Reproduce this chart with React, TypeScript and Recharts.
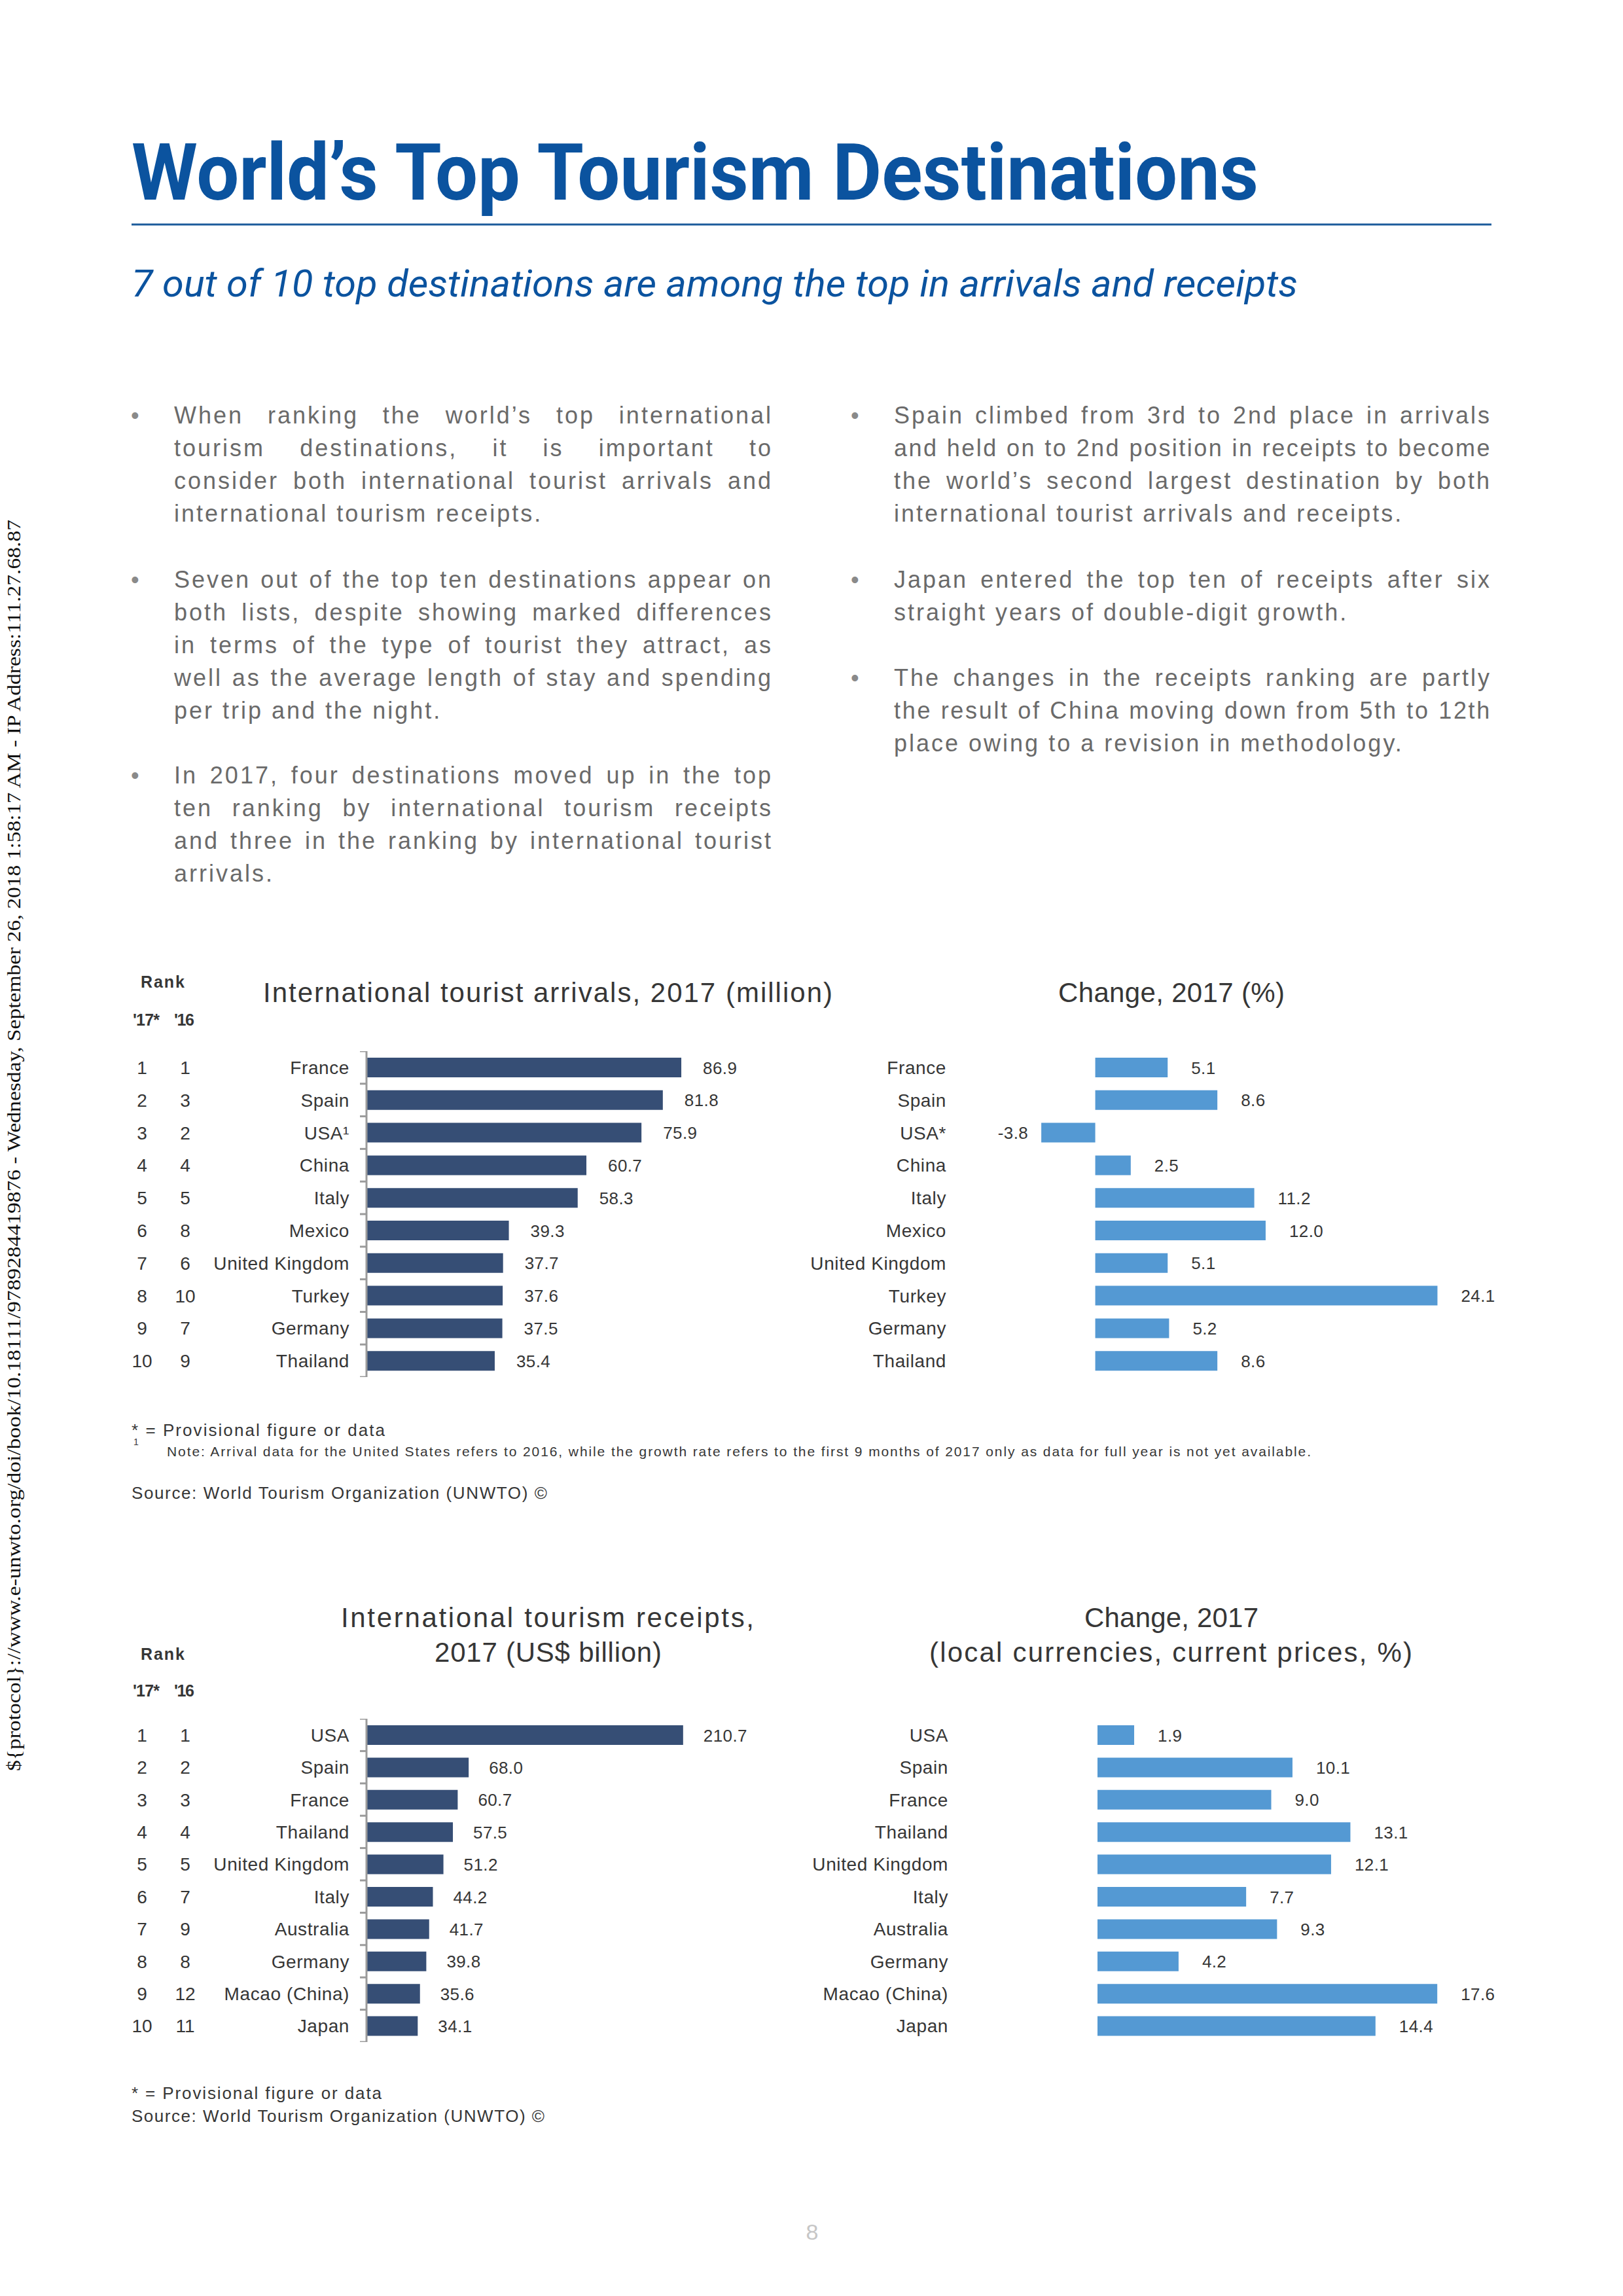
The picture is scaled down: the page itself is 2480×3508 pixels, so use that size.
import React from "react"
import { BarChart, Bar, XAxis, YAxis, LabelList } from "recharts"

// Top ten by international tourist arrivals, 2017
const arrivalCountries = ["France", "Spain", "USA¹", "China", "Italy", "Mexico", "United Kingdom", "Turkey", "Germany", "Thailand"]
const arrivalChangeCountries = ["France", "Spain", "USA*", "China", "Italy", "Mexico", "United Kingdom", "Turkey", "Germany", "Thailand"]
const arrivalRank17 = [1, 2, 3, 4, 5, 6, 7, 8, 9, 10]
const arrivalRank16 = [1, 3, 2, 4, 5, 8, 6, 10, 7, 9]
const arrivals2017 = [86.9, 81.8, 75.9, 60.7, 58.3, 39.3, 37.7, 37.6, 37.5, 35.4]
const arrivalsChange = [5.1, 8.6, -3.8, 2.5, 11.2, 12.0, 5.1, 24.1, 5.2, 8.6]

// Top ten by international tourism receipts, 2017
const receiptCountries = ["USA", "Spain", "France", "Thailand", "United Kingdom", "Italy", "Australia", "Germany", "Macao (China)", "Japan"]
const receiptRank17 = [1, 2, 3, 4, 5, 6, 7, 8, 9, 10]
const receiptRank16 = [1, 2, 3, 4, 5, 7, 9, 8, 12, 11]
const receipts2017 = [210.7, 68.0, 60.7, 57.5, 51.2, 44.2, 41.7, 39.8, 35.6, 34.1]
const receiptsChange = [1.9, 10.1, 9.0, 13.1, 12.1, 7.7, 9.3, 4.2, 17.6, 14.4]

const leftParagraphs = [
  [
    "When ranking the world’s top international",
    "tourism destinations, it is important to",
    "consider both international tourist arrivals and",
    "international tourism receipts.",
  ],
  [
    "Seven out of the top ten destinations appear on",
    "both lists, despite showing marked differences",
    "in terms of the type of tourist they attract, as",
    "well as the average length of stay and spending",
    "per trip and the night.",
  ],
  [
    "In 2017, four destinations moved up in the top",
    "ten ranking by international tourism receipts",
    "and three in the ranking by international tourist",
    "arrivals.",
  ],
]

const rightParagraphs = [
  [
    "Spain climbed from 3rd to 2nd place in arrivals",
    "and held on to 2nd position in receipts to become",
    "the world’s second largest destination by both",
    "international tourist arrivals and receipts.",
  ],
  [
    "Japan entered the top ten of receipts after six",
    "straight years of double-digit growth.",
  ],
  [
    "The changes in the receipts ranking are partly",
    "the result of China moving down from 5th to 12th",
    "place owing to a revision in methodology.",
  ],
]

const SANS = "'Liberation Sans', Arial, Helvetica, sans-serif"
const DARK = "#363636"
const NAVY = "#364e75"
const SKY = "#5499d3"
const BLUE = "#0b539f"
const BODY_GRAY = "#6a6a6a"
const AXIS_GRAY = "#9b9b9b"

const BODY_SIZE = 36
const BODY_LINE = 50
const BODY_TRACK = 3

type Row = { country: string; value: number; r17?: number; r16?: number }

const makeRows = (names: string[], values: number[], r17?: number[], r16?: number[]): Row[] =>
  names.map((c, i) => ({ country: c, value: values[i], r17: r17 ? r17[i] : undefined, r16: r16 ? r16[i] : undefined }))

let measureCtx: CanvasRenderingContext2D | null = null
function textWidth(s: string, font: string) {
  if (!measureCtx) measureCtx = document.createElement("canvas").getContext("2d")
  if (!measureCtx) return 0
  measureCtx.font = font
  return measureCtx.measureText(s).width
}

function RowTick(props: any) {
  const { x, y, payload, index, rows, band, withAxis, withRanks, labelGap } = props
  const half = band / 2
  const row: Row = rows[index]
  const common = { fontFamily: SANS, fontSize: 28, fill: DARK }
  return (
    <g>
      {withRanks && (
        <>
          <text x={x - 343} y={y} dy={10} textAnchor="middle" {...common}>{row.r17}</text>
          <text x={x - 277} y={y} dy={10} textAnchor="middle" {...common}>{row.r16}</text>
        </>
      )}
      <text x={x - labelGap} y={y} dy={10} textAnchor="end" letterSpacing={0.6} {...common}>
        {payload.value}
      </text>
      {withAxis && <line x1={x - 10} x2={x} y1={y - half} y2={y - half} stroke={AXIS_GRAY} strokeWidth={3} />}
      {withAxis && index === rows.length - 1 && (
        <line x1={x - 10} x2={x} y1={y + half} y2={y + half} stroke={AXIS_GRAY} strokeWidth={3} />
      )}
    </g>
  )
}

function ValueLabel(props: any) {
  const vb = props.viewBox || props
  const x0 = Number(vb.x)
  const w = Number(vb.width)
  const y0 = Number(vb.y)
  const h = Number(vb.height)
  const v = Number(props.value)
  const left = Math.min(x0, x0 + w)
  const right = Math.max(x0, x0 + w)
  const neg = v < 0
  return (
    <text
      x={neg ? left - 20 : right + props.gap}
      y={y0 + h / 2}
      dy={9.5}
      textAnchor={neg ? "end" : "start"}
      fontFamily={SANS}
      fontSize={26}
      letterSpacing={0.4}
      fill={DARK}
    >
      {v.toFixed(1)}
    </text>
  )
}

type RowChartProps = {
  rows: Row[]
  left: number
  top: number
  width: number
  height: number
  axisWidth: number
  domain: [number, number]
  color: string
  withAxis: boolean
  withRanks: boolean
  labelGap: number
  valueGap: number
}

function RowChart(p: RowChartProps) {
  const band = p.height / p.rows.length
  return (
    <div style={{ position: "absolute", left: p.left, top: p.top }}>
      <BarChart
        width={p.width}
        height={p.height}
        data={p.rows}
        layout="vertical"
        margin={{ top: 0, right: 0, bottom: 0, left: 0 }}
      >
        <XAxis type="number" domain={p.domain} allowDataOverflow hide />
        <YAxis
          type="category"
          dataKey="country"
          width={p.axisWidth}
          interval={0}
          tickSize={0}
          tickMargin={0}
          tickLine={false}
          axisLine={p.withAxis ? { stroke: AXIS_GRAY, strokeWidth: 3 } : false}
          tick={(t: any) => (
            <RowTick {...t} rows={p.rows} band={band} withAxis={p.withAxis} withRanks={p.withRanks} labelGap={p.labelGap} />
          )}
        />
        <Bar dataKey="value" fill={p.color} barSize={30} isAnimationActive={false}>
          <LabelList dataKey="value" content={(l: any) => <ValueLabel {...l} gap={p.valueGap} />} />
        </Bar>
      </BarChart>
    </div>
  )
}

function Paragraph({ lines, x, top, bulletX, width }: { lines: string[]; x: number; top: number; bulletX: number; width: number }) {
  const font = `${BODY_SIZE}px ${SANS}`
  return (
    <>
      <div style={{ position: "absolute", left: bulletX, top, fontSize: BODY_SIZE, lineHeight: `${BODY_LINE}px`, color: "#8a8a8a", fontFamily: SANS }}>
        •
      </div>
      {lines.map((line, i) => {
        const last = i === lines.length - 1
        const natural = textWidth(line, font)
        const track = Math.min(BODY_TRACK, (width - 8 - natural) / line.length)
        return (
          <div
            key={i}
            style={{
              position: "absolute",
              left: x,
              top: top + i * BODY_LINE,
              width,
              fontFamily: SANS,
              fontSize: BODY_SIZE,
              lineHeight: `${BODY_LINE}px`,
              letterSpacing: track,
              color: BODY_GRAY,
              textAlign: "justify",
              textAlignLast: last ? "left" : "justify",
            }}
          >
            {line}
          </div>
        )
      })}
    </>
  )
}

function Label({ x, y, size, len, children, weight, anchor }: any) {
  return (
    <text
      x={x}
      y={y}
      fontFamily={SANS}
      fontSize={size}
      fontWeight={weight || "normal"}
      textAnchor={anchor || "start"}
      textLength={len}
      lengthAdjust="spacing"
      fill={DARK}
    >
      {children}
    </text>
  )
}

export default function App() {
  const arrivalRows = makeRows(arrivalCountries, arrivals2017, arrivalRank17, arrivalRank16)
  const arrivalChangeRows = makeRows(arrivalChangeCountries, arrivalsChange)
  const receiptRows = makeRows(receiptCountries, receipts2017, receiptRank17, receiptRank16)
  const receiptChangeRows = makeRows(receiptCountries, receiptsChange)

  return (
    <div style={{ position: "absolute", left: 0, top: 0, width: 2480, height: 3508, background: "#fff", overflow: "hidden" }}>
      <svg width={2480} height={3508} style={{ position: "absolute", left: 0, top: 0 }}>
        <text
          transform="translate(31, 2706) rotate(-90)"
          fontFamily="'Liberation Serif', 'Times New Roman', serif"
          fontSize={29}
          textLength={1912}
          lengthAdjust="spacingAndGlyphs"
          fill="#111"
        >
          {"${protocol}://www.e-unwto.org/doi/book/10.18111/9789284419876 - Wednesday, September 26, 2018 1:58:17 AM - IP Address:111.27.68.87"}
        </text>

        <text x={201} y={305} fontFamily="Roboto, sans-serif" fontWeight="bold" fontSize={121} textLength={1722} lengthAdjust="spacingAndGlyphs" fill={BLUE}>
          World’s Top Tourism Destinations
        </text>
        <line x1={201} x2={2279} y1={343} y2={343} stroke="#1b5b9b" strokeWidth={3} />
        <text x={201} y={453} fontFamily="Roboto, sans-serif" fontStyle="italic" fontWeight={400} fontSize={58} textLength={1782} lengthAdjust="spacingAndGlyphs" fill={BLUE}>
          7 out of 10 top destinations are among the top in arrivals and receipts
        </text>

        <Label x={215} y={1509} size={25} len={67} weight="bold">Rank</Label>
        <Label x={203} y={1567} size={25} len={41} weight="bold">'17*</Label>
        <Label x={266} y={1567} size={25} len={31} weight="bold">'16</Label>
        <Label x={402} y={1531} size={42} len={870}>International tourist arrivals, 2017 (million)</Label>
        <Label x={1617} y={1531} size={42} len={346}>Change, 2017 (%)</Label>

        <Label x={201} y={2194} size={26} len={387}>* = Provisional figure or data</Label>
        <text x={204} y={2208} fontFamily={SANS} fontSize={14} fill={DARK}>1</text>
        <Label x={255} y={2225} size={21} len={1748}>
          Note: Arrival data for the United States refers to 2016, while the growth rate refers to the first 9 months of 2017 only as data for full year is not yet available.
        </Label>
        <Label x={201} y={2290} size={26} len={635}>Source: World Tourism Organization (UNWTO) ©</Label>

        <Label x={521} y={2486} size={42} len={631}>International tourism receipts,</Label>
        <Label x={664} y={2539} size={42} len={347}>2017 (US$ billion)</Label>
        <Label x={1657} y={2486} size={42} len={266}>Change, 2017</Label>
        <Label x={1420} y={2539} size={42} len={738}>(local currencies, current prices, %)</Label>
        <Label x={215} y={2536} size={25} len={67} weight="bold">Rank</Label>
        <Label x={203} y={2592} size={25} len={41} weight="bold">'17*</Label>
        <Label x={266} y={2592} size={25} len={31} weight="bold">'16</Label>

        <Label x={201} y={3207} size={26} len={382}>* = Provisional figure or data</Label>
        <Label x={201} y={3242} size={26} len={631}>Source: World Tourism Organization (UNWTO) ©</Label>

        <text x={1241} y={3422} textAnchor="middle" fontFamily={SANS} fontSize={34} fill="#c6c6c6">8</text>
      </svg>

      {leftParagraphs.map((lines, i) => (
        <Paragraph key={"l" + i} lines={lines} x={266} width={915} bulletX={200} top={[610, 861, 1160][i]} />
      ))}
      {rightParagraphs.map((lines, i) => (
        <Paragraph key={"r" + i} lines={lines} x={1366} width={913} bulletX={1300} top={[610, 861, 1011][i]} />
      ))}

      <RowChart rows={arrivalRows} left={180} top={1606} width={1000} height={498} axisWidth={380} domain={[0, 112]} color={NAVY} withAxis withRanks labelGap={26} valueGap={33} />
      <RowChart rows={arrivalChangeRows} left={1180} top={1606} width={1151} height={498} axisWidth={320} domain={[-8, 30.3]} color={SKY} withAxis={false} withRanks={false} labelGap={54} valueGap={36} />
      <RowChart rows={receiptRows} left={180} top={2626} width={1000} height={494} axisWidth={380} domain={[0, 270]} color={NAVY} withAxis withRanks labelGap={26} valueGap={31} />
      <RowChart rows={receiptChangeRows} left={1180} top={2626} width={1146} height={494} axisWidth={320} domain={[-6, 22]} color={SKY} withAxis={false} withRanks={false} labelGap={51} valueGap={36} />
    </div>
  )
}
